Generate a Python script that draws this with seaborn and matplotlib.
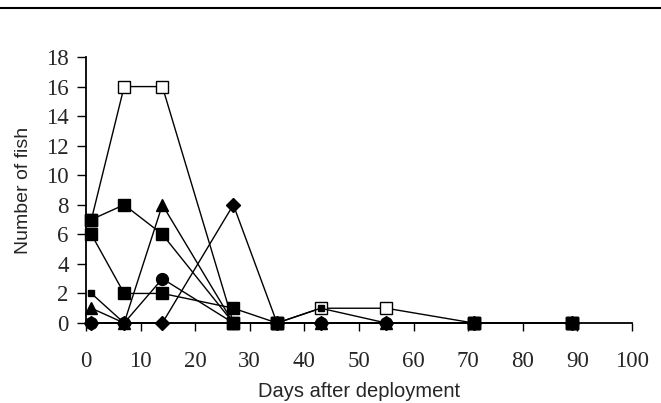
import matplotlib
matplotlib.use("Agg")
import matplotlib.pyplot as plt
from matplotlib.lines import Line2D
import seaborn as sns
import pandas as pd

# === Datos ===
dias = [1, 7, 14, 27, 35, 43, 55, 71, 89]
dias_cuad = [1, 7, 14, 27, 35, 71, 89]

cuadro_abierto = [7, 16, 16, 0, 0, 1, 1, 0, 0]
cuadro_a = [7, 8, 6, 0, 0, 0, 0]
cuadro_b = [6, 2, 2, 1, 0, 0, 0]
cuadro_chico = [2, 0, 0, 0, 0, 1, 0, 0, 0]
triangulo = [1, 0, 8, 0, 0, 0, 0, 0, 0]
circulo = [0, 0, 3, 0, 0, 0, 0, 0, 0]
rombo = [0, 0, 0, 8, 0, 0, 0, 0, 0]

SERIES = [
    # (x, y, marcador, tamaño, relleno)
    (dias, cuadro_abierto, "s", 8.5, "white"),
    (dias, rombo, "D", 7.5, "black"),
    (dias, triangulo, "^", 9, "black"),
    (dias, cuadro_chico, "s", 5, "black"),
    (dias, circulo, "o", 8.5, "black"),
    (dias_cuad, cuadro_a, "s", 8.5, "black"),
    (dias_cuad, cuadro_b, "s", 8.5, "black"),
]

sns.set_style("ticks")

fig = plt.figure(figsize=(6.61, 4.03), dpi=100)
ax = fig.add_axes([0.130, 0.1985, 0.826, 0.66])

for x, y, mk, ms, fc in SERIES:
    df = pd.DataFrame({"dia": x, "n": y})
    sns.lineplot(
        data=df, x="dia", y="n", ax=ax,
        color="black", linewidth=1.0,
        marker=mk, markersize=ms,
        markerfacecolor=fc, markeredgecolor="black", markeredgewidth=1.0,
        clip_on=False,
    )

ax.set_xlim(0, 100)
ax.set_ylim(0, 18)
ax.set_xticks(range(0, 101, 10))
ax.set_yticks(range(0, 19, 2))
sns.despine(ax=ax)
for s in ["left", "bottom"]:
    ax.spines[s].set_linewidth(1.3)
    ax.spines[s].set_color("black")

ax.tick_params(axis="x", direction="out", length=6, width=1.0, color="black",
               labelsize=16.5, pad=14)
ax.tick_params(axis="y", direction="out", length=6.5, width=1.0, color="black",
               labelsize=16.5, pad=6)
for lab in ax.get_xticklabels() + ax.get_yticklabels():
    lab.set_family("Liberation Serif")

ax.set_xlabel("Days after deployment", family="Liberation Sans", fontsize=14.5, labelpad=7)
ax.set_ylabel("Number of fish", family="Liberation Sans", fontsize=14, labelpad=10)

# línea superior del borde
fig.add_artist(Line2D([0, 1], [0.98, 0.98], transform=fig.transFigure,
                      color="black", linewidth=1.5))

plt.savefig("out.png", dpi=100)
plt.close()
